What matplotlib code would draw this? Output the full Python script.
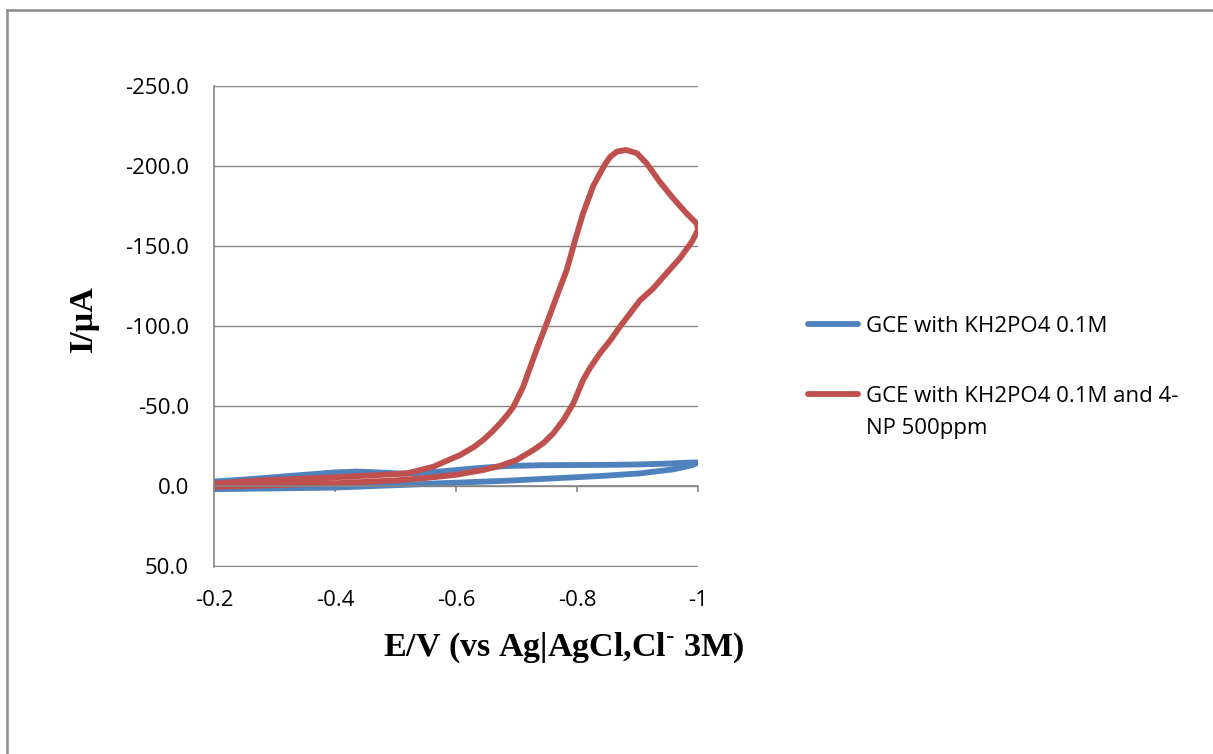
import matplotlib
matplotlib.use("Agg")
import matplotlib.pyplot as plt
from matplotlib.lines import Line2D
from matplotlib.transforms import IdentityTransform

plt.rcParams['axes.unicode_minus'] = False
plt.rcParams['mathtext.default'] = 'regular'

# blue: GCE with KH2PO4 0.1M (loop, E in V, I in uA)
blue_E = [-0.200, -0.250, -0.300, -0.350, -0.400, -0.436, -0.470, -0.507, -0.540,
          -0.584, -0.630, -0.684, -0.740, -0.794, -0.850, -0.904, -0.950, -0.985,
          -1.000, -0.990, -0.959, -0.904, -0.850, -0.794, -0.684, -0.574, -0.500,
          -0.397, -0.300, -0.200]
blue_I = [-2.8, -4.0, -5.5, -7.0, -8.5, -9.0, -8.5, -7.8, -8.0,
          -9.4, -11.0, -12.5, -13.0, -13.1, -13.2, -13.5, -14.0, -14.6,
          -14.7, -13.0, -10.4, -7.9, -6.5, -5.4, -3.3, -1.7, -0.5,
          1.0, 1.5, 2.0]

# red: GCE with KH2PO4 0.1M and 4-NP 500ppm
red_E = [-0.200, -0.280, -0.397, -0.470, -0.519, -0.562, -0.607, -0.630, -0.645,
         -0.660, -0.673, -0.685, -0.695, -0.711, -0.717, -0.733, -0.750, -0.766,
         -0.783, -0.797, -0.810, -0.827, -0.838, -0.847, -0.855, -0.866, -0.881,
         -0.899, -0.915, -0.937, -0.959, -0.981, -0.998, -1.000, -0.990, -0.970,
         -0.948, -0.926, -0.904, -0.888, -0.871, -0.855, -0.838, -0.821, -0.810,
         -0.794, -0.778, -0.761, -0.745, -0.728, -0.700, -0.672, -0.645, -0.600,
         -0.550, -0.500, -0.400, -0.300, -0.200]
red_I = [-1.5, -3.5, -5.4, -6.8, -7.9, -12.0, -19.4, -24.5, -28.8,
         -34.0, -39.2, -44.5, -49.6, -62.0, -68.3, -85.0, -101.7, -118.0,
         -135.0, -153.8, -170.4, -187.7, -195.4, -201.5, -205.8, -209.0, -210.0,
         -208.0, -201.7, -190.0, -179.8, -170.4, -164.0, -160.0, -152.7, -142.3,
         -133.0, -123.5, -116.0, -108.0, -99.6, -91.0, -83.0, -73.5, -66.2,
         -51.7, -41.5, -33.0, -27.0, -22.5, -16.2, -12.5, -10.0, -7.0,
         -5.0, -3.5, -1.7, -0.5, 0.5]

labels = ['GCE with KH2PO4 0.1M', 'GCE with KH2PO4 0.1M and 4-']
label_cont = 'NP 500ppm'
xticks = [-0.2, -0.4, -0.6, -0.8, -1.0]
yticks = [-250, -200, -150, -100, -50, 0, 50]

gray = '#868686'
tick_font = 'Open Sans'
fs = 16

fig = plt.figure(figsize=(12.13, 7.54), dpi=100)
# axes reaches one pixel below the 50 line so that gridline is drawn inside it
ax = fig.add_axes([214 / 1213, 1 - 567 / 754, 484 / 1213, 481 / 754])

ax.plot(blue_E, blue_I, color='#4F81BD', lw=4.2, solid_capstyle='round',
        solid_joinstyle='round', label=labels[0])
ax.plot(red_E, red_I, color='#C0504D', lw=4.2, solid_capstyle='round',
        solid_joinstyle='round', label=labels[1])

ax.set_xlim(-0.2, -1.0)
ax.set_ylim(50.625, -250)

ax.set_yticks(yticks)
ax.set_yticklabels(['%.1f' % v for v in yticks], fontfamily=tick_font, fontsize=fs)
ax.tick_params(axis='y', length=0, pad=18)
ax.yaxis.grid(True, color=gray, lw=1.0)
ax.set_axisbelow(True)

for s in ['top', 'right']:
    ax.spines[s].set_visible(False)
ax.spines['left'].set_color(gray)
ax.spines['left'].set_linewidth(1.2)
ax.spines['bottom'].set_position(('data', 0))
ax.spines['bottom'].set_color(gray)
ax.spines['bottom'].set_linewidth(1.2)
ax.set_xticks(xticks)
ax.tick_params(axis='x', direction='out', length=4, width=1.2, color=gray,
               labelbottom=False)

# x tick labels sit below the plot area, not on the y=0 axis line
sec = ax.secondary_xaxis('bottom')
sec.patch.set_visible(False)
sec.set_xticks(xticks)
sec.set_xticklabels(['%g' % v for v in xticks], fontfamily=tick_font, fontsize=fs)
sec.tick_params(length=0, pad=16.3)
sec.spines['bottom'].set_visible(False)

fig.text(564 / 1213, 1 - 648 / 754, r'E/V (vs Ag|AgCl,Cl$^{\text{-}}$ 3M)',
         family='Liberation Serif', weight='bold', fontsize=24.5,
         ha='center', va='center')
fig.text(83 / 1213, 1 - 319 / 754, 'I/\u03bcA', family='Liberation Serif',
         weight='bold', fontsize=24.5, rotation=90, ha='center', va='center')

leg = fig.legend(loc='upper left', bbox_to_anchor=(808 / 1213, 1 - 316 / 754),
                 frameon=False, prop={'family': tick_font, 'size': fs},
                 handlelength=2.25, handletextpad=0.35, labelspacing=2.2,
                 borderpad=0, borderaxespad=0)

# figure border (top and left edges)
fig.add_artist(Line2D([7 / 1213, 7 / 1213], [0, 1 - 10 / 754], color='#8c8c8c', lw=1.8))
fig.add_artist(Line2D([7 / 1213, 1], [1 - 10 / 754, 1 - 10 / 754], color='#8c8c8c', lw=1.8))

fig.canvas.draw()
bb = leg.get_texts()[1].get_window_extent()
fig.text(bb.x0, bb.y0 - 32, label_cont, transform=IdentityTransform(),
         family=tick_font, fontsize=fs, ha='left', va='bottom')

fig.savefig('out.png', dpi=100)
